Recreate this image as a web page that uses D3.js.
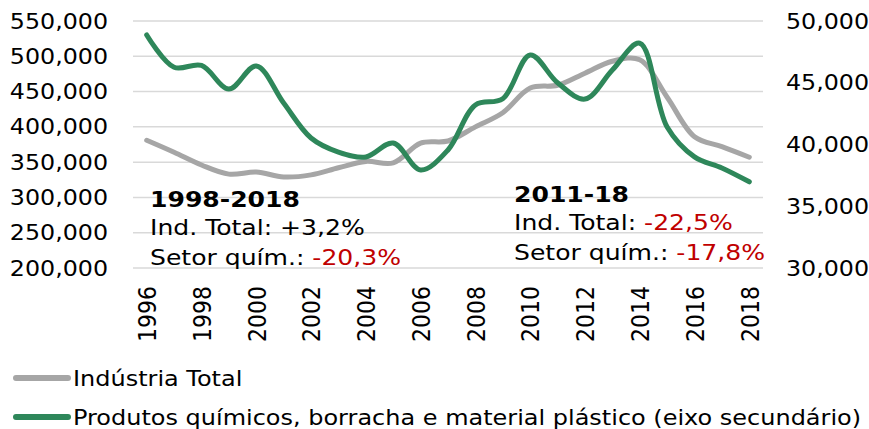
<!DOCTYPE html>
<html>
<head>
<meta charset="utf-8">
<script src="https://cdn.jsdelivr.net/npm/d3@7"></script>
<style>
  body { margin: 0; background: #fff; }
  svg { font-family: "DejaVu Sans", Verdana, sans-serif; }
</style>
</head>
<body>
<div id="chart"></div>
<script>
// data
const years = d3.range(1996, 2019);
const industriaTotal = [381000, 364000, 346000, 333000, 336000, 329000, 332000, 342000, 351000, 349000,
                        377000, 380000, 400000, 420000, 455000, 459000, 476000, 493000, 495000, 442000,
                        386000, 372000, 357000];
const setorQuimico = [48870, 46250, 46400, 44490, 46360, 43360, 40530, 39390, 38990, 40120,
                      37940, 39560, 43200, 43700, 47250, 45000, 43680, 46030, 48200, 41420,
                      39000, 38100, 36980];
const yTicks = [200000, 250000, 300000, 350000, 400000, 450000, 500000, 550000];
const y2Ticks = [30000, 35000, 40000, 45000, 50000];
const xTicks = d3.range(1996, 2019, 2);
const seriesNames = ["Indústria Total", "Produtos químicos, borracha e material plástico (eixo secundário)"];
const colors = ["#a6a6a6", "#2e875a"];

let width = 869, height = 429;
let plot = {left: 133, right: 763, top: 21, bottom: 268};
// the reference text is drawn a bit wider than DejaVu Sans
let stretch = 1.14;

let svg = d3.select("#chart")
    .append("svg")
        .attr("width", width)
        .attr("height", height);

let x = d3.scalePoint()
    .domain(years)
    .range([plot.left, plot.right])
    .padding(0.5);

let y = d3.scaleLinear()
    .domain([200000, 550000])
    .range([plot.bottom, plot.top]);

let y2 = d3.scaleLinear()
    .domain([30000, 50000])
    .range([plot.bottom, plot.top]);

let fmt = d3.format(",");

// gridlines
svg.append("g")
    .selectAll("line")
    .data(yTicks)
    .enter()
    .append("line")
        .attr("x1", plot.left)
        .attr("x2", plot.right)
        .attr("y1", d => y(d))
        .attr("y2", d => y(d))
        .attr("stroke", "#d9d9d9")
        .attr("stroke-width", 1.5);

// left axis
let yAxis = svg.append("g")
    .attr("transform", `translate(${plot.left - 25},0) scale(1.08,1)`)
    .call(d3.axisLeft(y).tickValues(yTicks).tickFormat(fmt).tickSize(0).tickPadding(0));
yAxis.select(".domain").remove();
yAxis.selectAll("text")
    .attr("font-size", 22)
    .attr("fill", "#000")
    .attr("font-family", "DejaVu Sans, Verdana, sans-serif");

// right axis
let y2Axis = svg.append("g")
    .attr("transform", `translate(${plot.right + 23},0) scale(1.08,1)`)
    .call(d3.axisRight(y2).tickValues(y2Ticks).tickFormat(fmt).tickSize(0).tickPadding(0));
y2Axis.select(".domain").remove();
y2Axis.selectAll("text")
    .attr("font-size", 22)
    .attr("fill", "#000")
    .attr("font-family", "DejaVu Sans, Verdana, sans-serif");

// bottom axis, rotated labels
let xAxis = svg.append("g")
    .attr("transform", `translate(0,${plot.bottom})`)
    .call(d3.axisBottom(x).tickValues(xTicks).tickSize(0).tickPadding(0));
xAxis.select(".domain").remove();
xAxis.selectAll("text")
    .attr("font-size", 22)
    .attr("fill", "#000")
    .attr("font-family", "DejaVu Sans, Verdana, sans-serif")
    .attr("text-anchor", "end")
    .attr("dy", "0.35em")
    .attr("transform", `translate(0,18) scale(${stretch},1) rotate(-90)`)
    .attr("y", 0)
    .attr("x", 0);

let line1 = d3.line()
    .curve(d3.curveCatmullRom)
    .x((d, i) => x(years[i]))
    .y(d => y(d));

let line2 = d3.line()
    .curve(d3.curveCatmullRom)
    .x((d, i) => x(years[i]))
    .y(d => y2(d));

svg.append("path")
    .datum(industriaTotal)
    .attr("fill", "none")
    .attr("stroke", colors[0])
    .attr("stroke-width", 5)
    .attr("stroke-linejoin", "round")
    .attr("stroke-linecap", "round")
    .attr("d", line1);

svg.append("path")
    .datum(setorQuimico)
    .attr("fill", "none")
    .attr("stroke", colors[1])
    .attr("stroke-width", 5)
    .attr("stroke-linejoin", "round")
    .attr("stroke-linecap", "round")
    .attr("d", line2);

// annotations
function note(x0, y0, title, total, totalRed, quim) {
    let g = svg.append("g")
        .attr("transform", `translate(${x0},${y0}) scale(${stretch},1)`)
        .attr("font-size", 22)
        .attr("fill", "#000");
    g.append("text")
        .attr("font-weight", "bold")
        .text(title);
    let t1 = g.append("text").attr("y", 28);
    t1.append("tspan").text("Ind. Total: ");
    t1.append("tspan").attr("fill", totalRed ? "#c00000" : "#000").text(total);
    let t2 = g.append("text").attr("y", 58);
    t2.append("tspan").text("Setor quím.: ");
    t2.append("tspan").attr("fill", "#c00000").text(quim);
}
note(150, 207, "1998-2018", "+3,2%", false, "-20,3%");
note(514, 202, "2011-18", "-22,5%", true, "-17,8%");

// legend
let legend = svg.append("g")
    .selectAll("g")
    .data(seriesNames)
    .enter()
    .append("g")
        .attr("transform", (d, i) => `translate(0,${378 + i * 39})`);

legend.append("line")
    .attr("x1", 16)
    .attr("x2", 68)
    .attr("stroke", (d, i) => colors[i])
    .attr("stroke-width", 6)
    .attr("stroke-linecap", "round");

legend.append("text")
    .attr("transform", "translate(73,0) scale(1.09,1)")
    .attr("dy", "0.35em")
    .attr("font-size", 22)
    .attr("fill", "#000")
    .text(d => d);
</script>
</body>
</html>
